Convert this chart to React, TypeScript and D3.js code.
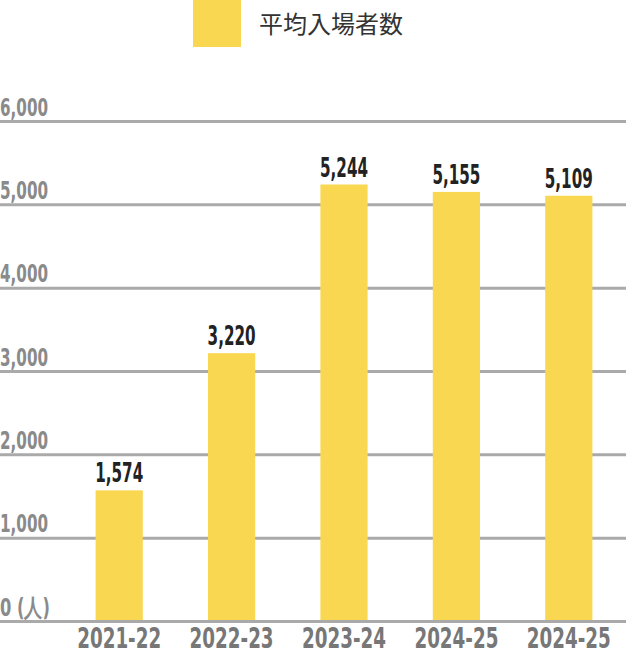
import { useEffect, useRef } from "react";
import * as d3 from "d3";

const seasons = ["2021-22", "2022-23", "2023-24", "2024-25", "2024-25"];
const attendance = [1574, 3220, 5244, 5155, 5109];
const yTicks = [0, 1000, 2000, 3000, 4000, 5000, 6000];
const legendLabel = "平均入場者数";

const W = 626, H = 652;
const BAR = "#F9D751";
const NUM_FONT = "'DejaVu Sans Condensed', 'DejaVu Sans', sans-serif";

export default function App() {
  const svgRef = useRef<SVGSVGElement>(null);

  useEffect(() => {
    if (!svgRef.current) return;
    d3.select(svgRef.current).selectAll("*").remove();
    const svg = d3.select(svgRef.current).attr("width", W).attr("height", H);

    const x = d3.scaleBand<number>()
      .domain(d3.range(seasons.length))
      .range([63, 625])
      .paddingInner(0.58)
      .paddingOuter(0.29);
    const y = d3.scaleLinear().domain([0, 6000]).range([621.5, 121.5]);

    // legend
    svg.append("rect").attr("x", 193).attr("y", 0).attr("width", 48).attr("height", 47).attr("fill", BAR);
    svg.append("text")
      .attr("x", 259).attr("y", 33)
      .attr("font-family", "'Noto Sans CJK JP', sans-serif")
      .attr("font-size", 24).attr("fill", "#333")
      .text(legendLabel);

    // grid
    svg.selectAll("line.grid")
      .data(yTicks)
      .join("line")
      .attr("class", "grid")
      .attr("x1", 0).attr("x2", W)
      .attr("y1", (d) => y(d)).attr("y2", (d) => y(d))
      .attr("stroke", "#aaa").attr("stroke-width", 3);

    svg.selectAll("text.ytick")
      .data(yTicks)
      .join("text")
      .attr("class", "ytick")
      .attr("x", 0).attr("y", (d) => y(d) - 6)
      .attr("font-family", NUM_FONT).attr("font-stretch", "condensed").attr("font-weight", 700)
      .attr("font-size", 24).attr("fill", "#8a8a8a")
      .attr("textLength", (d) => (d === 0 ? 50 : 48))
      .attr("lengthAdjust", "spacingAndGlyphs")
      .text((d) => (d === 0 ? "0 (人)" : d3.format(",")(d)));

    // bars
    svg.selectAll("rect.bar")
      .data(attendance)
      .join("rect")
      .attr("class", "bar")
      .attr("x", (_, i) => x(i)!)
      .attr("width", x.bandwidth())
      .attr("y", (d) => y(d))
      .attr("height", (d) => y(0) - y(d) - 1.5)
      .attr("fill", BAR);

    svg.selectAll("text.val")
      .data(attendance)
      .join("text")
      .attr("class", "val")
      .attr("x", (_, i) => x(i)! + x.bandwidth() / 2)
      .attr("y", (d) => y(d) - 8)
      .attr("text-anchor", "middle")
      .attr("font-family", NUM_FONT).attr("font-stretch", "condensed").attr("font-weight", 700)
      .attr("font-size", 26).attr("fill", "#222")
      .attr("textLength", 48)
      .attr("lengthAdjust", "spacingAndGlyphs")
      .text((d) => d3.format(",")(d));

    svg.selectAll("text.xtick")
      .data(seasons)
      .join("text")
      .attr("class", "xtick")
      .attr("x", (_, i) => x(i)! + x.bandwidth() / 2)
      .attr("y", 648)
      .attr("text-anchor", "middle")
      .attr("font-family", NUM_FONT).attr("font-stretch", "condensed").attr("font-weight", 700)
      .attr("font-size", 28).attr("fill", "#777")
      .attr("textLength", 84)
      .attr("lengthAdjust", "spacingAndGlyphs")
      .text((d) => d);
  }, []);

  return <svg ref={svgRef} style={{ position: "absolute", left: 0, top: 0, display: "block" }} />;
}
